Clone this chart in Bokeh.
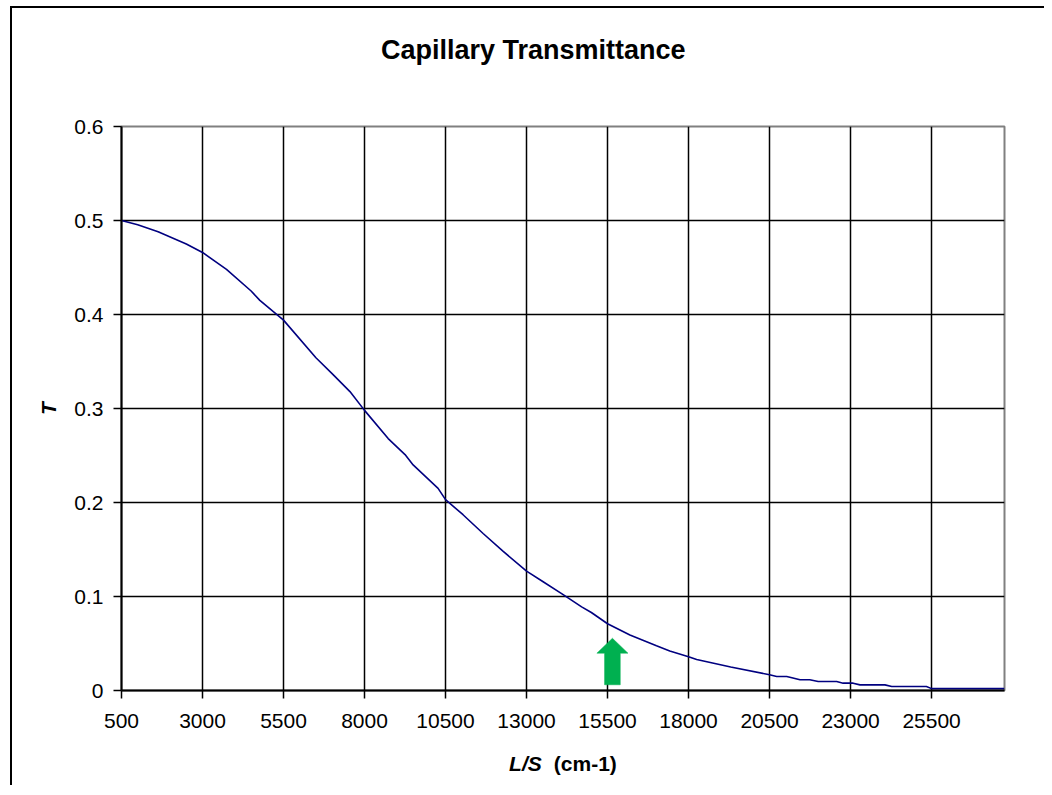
from bokeh.plotting import figure
from bokeh.layouts import column
from bokeh.models import Range1d, FixedTicker, NumeralTickFormatter, BasicTickFormatter
from bokeh.core.properties import value
from bokeh.embed import file_html
from bokeh.resources import INLINE

# ---- data ----
ls_values = [500, 1000, 1630, 2500, 3000, 3740, 4500, 4770, 5500, 6500, 7030, 7550, 8000,
             8730, 9250, 9500, 10270, 10500, 11040, 11660, 12280, 13000, 13500, 14130,
             14700, 15000, 15500, 16190, 17010, 17420, 18000, 18250, 19300, 20500, 20720,
             21030, 21440, 21740, 22000, 22570, 22770, 23080, 23290, 24060, 24270, 25340,
             25500, 27750]
t_values = [0.500, 0.4955, 0.488, 0.475, 0.466, 0.448, 0.425, 0.415, 0.394, 0.354, 0.336, 0.318,
            0.298, 0.268, 0.251, 0.240, 0.215, 0.203, 0.187, 0.167, 0.148, 0.127, 0.116,
            0.102, 0.089, 0.083, 0.071, 0.059, 0.0475, 0.042, 0.036, 0.033, 0.025, 0.0167,
            0.0149, 0.0149, 0.0114, 0.0114, 0.0096, 0.0096, 0.0078, 0.0078, 0.006, 0.006,
            0.0043, 0.0043, 0.002, 0.002]
x_ticks = [500, 3000, 5500, 8000, 10500, 13000, 15500, 18000, 20500, 23000, 25500]
y_ticks = [0, 0.1, 0.2, 0.3, 0.4, 0.5, 0.6]
title_text = "Capillary Transmittance"
title_pos = 13208
x_label_parts = ["L/S", "(cm-1)"]
x_label_styles = ["bold italic", "bold"]
x_label_pos = [12462, 13841]
y_label = "T"

# arrow marker (pointing at L/S ~ 15650)
arrow_x = 15650
arrow_tip = 0.0556
arrow_head_base = 0.0397
arrow_bottom = 0.0061
arrow_head_half = 480
arrow_shaft_half = 242

FONT = "Liberation Sans"
ML, MR = 109, 40
TITLE_H = 82

x_range = Range1d(500, 27750)

# ---- title strip ----
p0 = figure(frame_width=883, frame_height=TITLE_H,
            min_border_left=ML, min_border_right=MR, min_border_top=0, min_border_bottom=0,
            x_range=x_range, y_range=Range1d(0, TITLE_H),
            output_backend="svg", toolbar_location=None,
            background_fill_color="white", border_fill_color="white")
p0.axis.visible = False
p0.grid.visible = False
p0.outline_line_color = None
p0.text(x=[title_pos], y=[TITLE_H - 41], text=[title_text], text_font=value(FONT),
        text_font_size="27px", text_font_style="bold", text_baseline="middle",
        text_align="center", text_color="black")

# ---- main plot ----
p = figure(frame_width=883, frame_height=564,
           min_border_left=ML, min_border_top=36, min_border_right=MR, min_border_bottom=55,
           x_range=x_range, y_range=Range1d(0, 0.6),
           output_backend="svg", toolbar_location=None,
           background_fill_color="white", border_fill_color="white")

p.outline_line_color = "#808080"
p.outline_line_width = 2

# grids
p.xgrid.ticker = FixedTicker(ticks=x_ticks[1:])
p.ygrid.ticker = FixedTicker(ticks=y_ticks[1:-1])
for g in (p.xgrid, p.ygrid):
    g.grid_line_color = "black"
    g.grid_line_width = 1.5

# axes
xa = p.xaxis[0]
xa.ticker = FixedTicker(ticks=x_ticks)
xa.formatter = BasicTickFormatter(use_scientific=False)
ya = p.yaxis[0]
ya.ticker = FixedTicker(ticks=y_ticks)
ya.formatter = NumeralTickFormatter(format="0.[0]")
for ax in (xa, ya):
    ax.axis_line_color = "black"
    ax.axis_line_width = 2
    ax.major_tick_line_color = "black"
    ax.major_tick_line_width = 1.5
    ax.major_tick_in = 0
    ax.major_tick_out = 8
    ax.minor_tick_line_color = None
    ax.major_label_text_font = FONT
    ax.major_label_text_font_size = "21px"
    ax.major_label_text_color = "black"
xa.major_label_standoff = 15
ya.major_label_standoff = 10

ya.axis_label = y_label
ya.axis_label_text_font = FONT
ya.axis_label_text_font_size = "21px"
ya.axis_label_text_font_style = "bold italic"
ya.axis_label_text_color = "black"
ya.axis_label_standoff = 11

# curve
p.line(ls_values, t_values, line_color="#000080", line_width=1.6)

# green block arrow
ax_pts = [arrow_x, arrow_x + arrow_head_half, arrow_x + arrow_shaft_half, arrow_x + arrow_shaft_half,
          arrow_x - arrow_shaft_half, arrow_x - arrow_shaft_half, arrow_x - arrow_head_half]
ay_pts = [arrow_tip, arrow_head_base, arrow_head_base, arrow_bottom,
          arrow_bottom, arrow_head_base, arrow_head_base]
p.patch(ax_pts, ay_pts, fill_color="#00B050", line_color="#00B050", line_width=0.5)

# ---- x-axis title strip (mixed italic / upright text) ----
p2 = figure(frame_width=883, frame_height=40,
            min_border_left=ML, min_border_right=MR, min_border_top=0, min_border_bottom=0,
            x_range=x_range, y_range=Range1d(0, 1),
            output_backend="svg", toolbar_location=None,
            background_fill_color="white", border_fill_color="white")
p2.axis.visible = False
p2.grid.visible = False
p2.outline_line_color = None
for xpos, txt, sty in zip(x_label_pos, x_label_parts, x_label_styles):
    p2.text(x=[xpos], y=[0.55], text=[txt], text_font=value(FONT), text_font_size="21px",
            text_font_style=sty, text_baseline="middle", text_align="left", text_color="black")

layout = column(p0, p, p2, spacing=0)
layout.styles = {"border-left": "2px solid black", "border-top": "2px solid black",
                 "margin-left": "10px", "margin-top": "6px"}

open("out.html", "w").write(file_html(layout, INLINE))
